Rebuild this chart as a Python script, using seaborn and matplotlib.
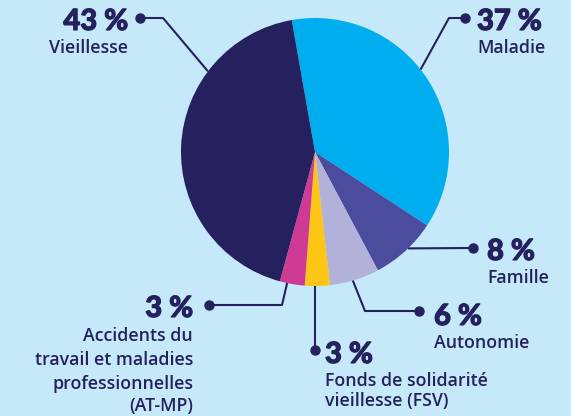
import numpy as np
import matplotlib.pyplot as plt
import matplotlib.patheffects as pe
import seaborn as sns

# parts du budget de la Sécurité sociale (en %)
branches = ["Maladie", "Famille", "Autonomie", "Fonds de solidarité vieillesse (FSV)",
            "Accidents du travail et maladies professionnelles (AT-MP)", "Vieillesse"]
parts = [37, 8, 6, 3, 3, 43]
noms = [["Maladie"], ["Famille"], ["Autonomie"],
        ["Fonds de solidarité", "vieillesse (FSV)"],
        ["Accidents du", "travail et maladies", "professionnelles", "(AT-MP)"],
        ["Vieillesse"]]
couleurs = ["#00adef", "#4c4c9f", "#b2b1d9", "#fdc514", "#cf3a95", "#25205e"]

W, H = 571, 416
FOND = "#c5e9f9"
ENCRE = "#25205e"
CX, CY, R = 315, 152, 134


def Y(y):
    # coordonnées pixel (origine en haut) -> axes (origine en bas)
    return H - y


# mise en page des étiquettes : angle du point d'accroche, coude, point, texte
# (angle, coude, point, x texte, alignement, ligne de base %, lignes suivantes)
mise_en_page = [
    (38, (449, 18), (465, 18), 477, "left", 30, [53]),
    (-46, None, (473, 248), 487, "left", 260, [283]),
    (-73.6, (365, 311), (419, 311), 434, "left", 325, [348]),
    (-90, None, (315, 350), 325, "left", 363, [386, 406]),
    (-102, (282, 305), (209, 305), 193, "right", 317, [341, 365, 389, 411]),
    (143, (163, 18), (140, 18), 128, "right", 30, [53]),
]

sns.set_theme(style="white")
plt.rcParams["font.family"] = ["Lato", "DejaVu Sans"]

fig = plt.figure(figsize=(W / 100, H / 100), dpi=100, facecolor=FOND)
ax = fig.add_axes([0, 0, 1, 1])
ax.set_facecolor(FOND)

ax.pie(parts, colors=couleurs, startangle=100, counterclock=False,
       center=(CX, Y(CY)), radius=R, wedgeprops=dict(linewidth=0))

gras = [pe.withStroke(linewidth=0.8, foreground=ENCRE)]
for part, lignes, (ang, coude, point, xt, ha, yb, ybs) in zip(parts, noms, mise_en_page):
    a = np.deg2rad(ang)
    bord = (CX + R * np.cos(a), CY - R * np.sin(a))
    pts = [bord] + ([coude] if coude else []) + [point]
    ax.plot([p[0] for p in pts], [Y(p[1]) for p in pts], color=ENCRE, lw=1.5,
            solid_capstyle="butt", zorder=3)
    ax.plot(point[0], Y(point[1]), "o", color=ENCRE, ms=6.5, zorder=4)
    ax.text(xt, Y(yb), f"{part} %", ha=ha, va="baseline", color=ENCRE,
            fontsize=21, fontweight="black", path_effects=gras)
    for txt, y in zip(lignes, ybs):
        ax.text(xt, Y(y), txt, ha=ha, va="baseline", color=ENCRE,
                fontsize=12.8, fontweight="semibold", family=["Open Sans", "DejaVu Sans"])

ax.set_xlim(0, W)
ax.set_ylim(0, H)
ax.set_aspect("equal")
ax.axis("off")

fig.savefig("out.png", dpi=100, facecolor=FOND)
